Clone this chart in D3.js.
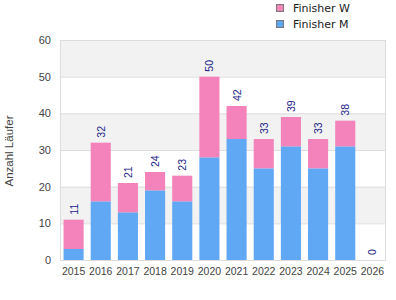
<!doctype html>
<html>
<head>
<meta charset="utf-8">
<script src="https://cdn.jsdelivr.net/npm/d3@7"></script>
<style>
  html, body { margin: 0; padding: 0; background: #fff; }
  svg { display: block; font-family: "Liberation Sans", Arial, sans-serif; }
</style>
</head>
<body>
<svg id="chart" width="396" height="300"></svg>
<script>
// data
const years = ["2015", "2016", "2017", "2018", "2019", "2020", "2021", "2022", "2023", "2024", "2025", "2026"];
const finisherM = [3, 16, 13, 19, 16, 28, 33, 25, 31, 25, 31, 0];
const finisherW = [8, 16, 8, 5, 7, 22, 9, 8, 8, 8, 7, 0];
const yTicks = [0, 10, 20, 30, 40, 50, 60];

const seriesNames = ["Finisher M", "Finisher W"];
const colors = { "Finisher M": "#60a8f4", "Finisher W": "#f383ba" };

const W = 396, H = 300;
const margin = { top: 40, right: 10, bottom: 40, left: 60 };

const svg = d3.select("#chart");

const x = d3.scaleBand()
  .domain(years)
  .range([margin.left, W - margin.right])
  .paddingInner(0.26)
  .paddingOuter(0.13);

const y = d3.scaleLinear()
  .domain([0, 60])
  .range([H - margin.bottom, margin.top]);

// alternating bands
const bands = d3.pairs(yTicks);
svg.append("g")
  .selectAll("rect")
  .data(bands)
  .join("rect")
  .attr("x", margin.left)
  .attr("width", W - margin.right - margin.left)
  .attr("y", (d) => y(d[1]))
  .attr("height", (d) => y(d[0]) - y(d[1]))
  .attr("fill", (_d, i) => (i % 2 === 1 ? "#f2f2f2" : "#ffffff"));

// gridlines
svg.append("g")
  .selectAll("line")
  .data(yTicks)
  .join("line")
  .attr("x1", margin.left)
  .attr("x2", W - margin.right)
  .attr("y1", (d) => y(d) + 0.5)
  .attr("y2", (d) => y(d) + 0.5)
  .attr("stroke", "#dddddd");

// frame
svg.append("rect")
  .attr("x", margin.left + 0.5)
  .attr("y", margin.top + 0.5)
  .attr("width", W - margin.right - margin.left - 1)
  .attr("height", H - margin.bottom - margin.top)
  .attr("fill", "none")
  .attr("stroke", "#dddddd");

// stacked bars
const table = years.map((yr, i) => ({ year: yr, "Finisher M": finisherM[i], "Finisher W": finisherW[i] }));
const stacked = d3.stack().keys(seriesNames)(table);

svg.append("g")
  .selectAll("g")
  .data(stacked)
  .join("g")
  .attr("fill", (s) => colors[s.key])
  .selectAll("rect")
  .data((s) => s)
  .join("rect")
  .attr("x", (d) => x(d.data.year))
  .attr("width", x.bandwidth())
  .attr("y", (d) => y(d[1]))
  .attr("height", (d) => y(d[0]) - y(d[1]));

// total labels, rotated
svg.append("g")
  .selectAll("text")
  .data(table)
  .join("text")
  .attr("transform", (d) => {
    const tot = d["Finisher M"] + d["Finisher W"];
    return `translate(${x(d.year) + x.bandwidth() / 2 + 4}, ${y(tot) - 5}) rotate(-90)`;
  })
  .attr("text-anchor", "start")
  .attr("fill", "#1a1a8a")
  .attr("font-size", 10.5)
  .text((d) => d["Finisher M"] + d["Finisher W"]);

// y axis labels
svg.append("g")
  .selectAll("text")
  .data(yTicks)
  .join("text")
  .attr("x", margin.left - 9)
  .attr("y", (d) => y(d) + 4)
  .attr("text-anchor", "end")
  .attr("fill", "#444")
  .attr("font-size", 11)
  .text((d) => d);

// x axis labels
svg.append("g")
  .selectAll("text")
  .data(years)
  .join("text")
  .attr("x", (d) => x(d) + x.bandwidth() / 2)
  .attr("y", H - margin.bottom + 15)
  .attr("text-anchor", "middle")
  .attr("fill", "#444")
  .attr("font-size", 10.5)
  .text((d) => d);

// y axis title
svg.append("text")
  .attr("transform", `translate(13, ${(margin.top + H - margin.bottom) / 2 + 1}) rotate(-90)`)
  .attr("text-anchor", "middle")
  .attr("fill", "#444")
  .attr("font-size", 11.5)
  .text("Anzahl Läufer");

// legend
const legendItems = ["Finisher W", "Finisher M"];
const lg = svg.append("g")
  .selectAll("g")
  .data(legendItems)
  .join("g")
  .attr("transform", (_d, i) => `translate(276, ${4 + i * 16})`);

lg.append("rect")
  .attr("x", 0.5)
  .attr("y", 0.5)
  .attr("width", 7)
  .attr("height", 7)
  .attr("fill", (d) => colors[d])
  .attr("stroke", "#777");

lg.append("text")
  .attr("x", 17)
  .attr("y", 8)
  .attr("fill", "#222")
  .attr("font-family", "DejaVu Sans, sans-serif")
  .attr("font-size", 11)
  .text((d) => d);
</script>
</body>
</html>
